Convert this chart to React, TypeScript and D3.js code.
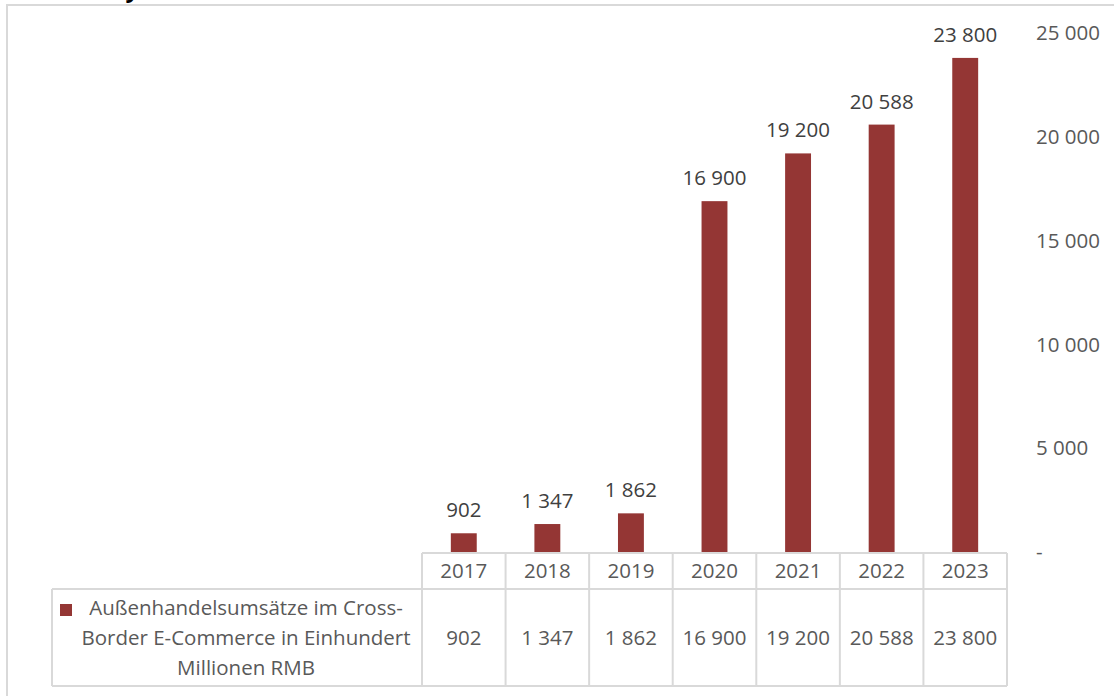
import React from "react";
import * as d3 from "d3";

const years = ["2017", "2018", "2019", "2020", "2021", "2022", "2023"];
const values = [902, 1347, 1862, 16900, 19200, 20588, 23800];
const yTicks = [0, 5000, 10000, 15000, 20000, 25000];
const seriesName = ["Außenhandelsumsätze im Cross-", "Border E-Commerce in Einhundert", "Millionen RMB"];

const W = 1114;
const H = 696;
const FONT = "'Open Sans', sans-serif";
const GRID = "#d9d9d9";
const BAR = "#943634";
const FS = 20.5;

const fmt = (v: number) => {
  if (v === 0) return "-";
  const s = String(Math.round(v));
  return s.replace(/\B(?=(\d{3})+(?!\d))/g, " ");
};

export default function App() {
  const x = d3.scaleBand<string>().domain(years).range([422, 1007]).paddingInner(0).paddingOuter(0);
  const y = d3.scaleLinear().domain([0, 25000]).range([552, 33]);
  const bw = x.bandwidth() * 0.31;
  const tableTop = 553;
  const rowMid = 589;
  const tableBottom = 686;
  const legendLeft = 52;
  const cols = [...years.map((yy) => x(yy) as number), 1007];

  return (
    <svg width={W} height={H} style={{ position: "absolute", left: 0, top: 0, background: "#fff" }} fontFamily={FONT}>
      <rect x={0} y={0} width={W} height={H} fill="#fff" />
      {/* cut-off title fragment */}
      <text x={128} y={-3} fontSize={24} fontWeight="bold" fontStyle="italic" fill="#000">y</text>
      {/* outer border */}
      <rect x={7} y={5} width={W + 20} height={H + 20} fill="none" stroke={GRID} strokeWidth={2} />

      {/* bars */}
      {years.map((yy, i) => (
        <rect key={yy} x={(x(yy) as number) + (x.bandwidth() - bw) / 2} y={y(values[i])} width={bw} height={y(0) - y(values[i])} fill={BAR} />
      ))}
      {/* data labels */}
      {years.map((yy, i) => (
        <text key={"l" + yy} x={(x(yy) as number) + x.bandwidth() / 2} y={y(values[i]) - 16} textAnchor="middle" fontSize={FS} fill="#404040">
          {fmt(values[i])}
        </text>
      ))}

      {/* y axis labels */}
      {yTicks.map((t) => (
        <text key={"t" + t} x={1036} y={y(t)} dy="0.35em" fontSize={FS} fill="#595959">
          {fmt(t)}
        </text>
      ))}

      {/* data table lines */}
      <g stroke={GRID} strokeWidth={2}>
        <line x1={422} x2={1007} y1={tableTop} y2={tableTop} />
        <line x1={legendLeft} x2={1007} y1={rowMid} y2={rowMid} />
        <line x1={legendLeft} x2={1007} y1={tableBottom} y2={tableBottom} />
        <line x1={legendLeft} x2={legendLeft} y1={rowMid} y2={tableBottom} />
        {cols.map((c, i) => (
          <line key={"c" + i} x1={c} x2={c} y1={tableTop} y2={tableBottom} />
        ))}
      </g>
      {years.map((yy, i) => (
        <g key={"r" + yy}>
          <text x={(x(yy) as number) + x.bandwidth() / 2} y={(tableTop + rowMid) / 2} dy="0.35em" textAnchor="middle" fontSize={FS} fill="#595959">
            {yy}
          </text>
          <text x={(x(yy) as number) + x.bandwidth() / 2} y={(rowMid + tableBottom) / 2} dy="0.35em" textAnchor="middle" fontSize={FS} fill="#595959">
            {fmt(values[i])}
          </text>
        </g>
      ))}
      {/* legend key */}
      <rect x={60} y={604} width={12} height={12} fill={BAR} />
      {seriesName.map((s, i) => (
        <text key={"s" + i} x={246} y={608 + i * 30} dy="0.35em" textAnchor="middle" fontSize={FS} fill="#595959">
          {s}
        </text>
      ))}
    </svg>
  );
}
